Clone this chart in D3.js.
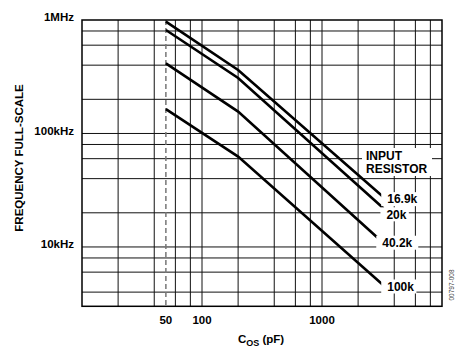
<!DOCTYPE html>
<html>
<head>
<meta charset="utf-8">
<script src="https://cdn.jsdelivr.net/npm/d3@7"></script>
<style>
  body { margin: 0; background: #fff; }
  text { font-family: "Liberation Sans", Arial, sans-serif; }
</style>
</head>
<body>
<div id="chart"></div>
<script>
// curves: Cos (pF) -> full-scale frequency (Hz), one array pair per input resistor
const resistors = ["16.9k", "20k", "40.2k", "100k"];
const cos169 = [50, 200, 3300],  freq169 = [966e3, 363e3, 27.2e3];
const cos20  = [50, 200, 3250],  freq20  = [816e3, 308e3, 21.9e3];
const cos402 = [50, 200, 3000],  freq402 = [415e3, 156e3, 11.7e3];
const cos100 = [50, 200, 3300],  freq100 = [164e3, 62.5e3, 4.53e3];

// grid + ticks
const xGrid = [20, 40, 60, 80, 100, 200, 400, 600, 800, 1000, 2000, 4000, 6000, 8000];
const yGrid = [4e3, 6e3, 8e3, 1e4, 2e4, 4e4, 6e4, 8e4, 1e5, 2e5, 4e5, 6e5, 8e5];
const xTicks = [50, 100, 1000];
const yTicks = [1e4, 1e5, 1e6];
const yTickLabels = ["10kHz", "100kHz", "1MHz"];

const series = [
  {name: resistors[0], c: cos169, f: freq169},
  {name: resistors[1], c: cos20,  f: freq20},
  {name: resistors[2], c: cos402, f: freq402},
  {name: resistors[3], c: cos100, f: freq100}
];

const W = 467, H = 352;
const svg = d3.select("#chart").append("svg")
  .attr("width", W).attr("height", H);

const x = d3.scaleLog().domain([10, 10000]).range([82, 442]);
const y = d3.scaleLog().domain([3e3, 1e6]).range([306.3, 20]);

// grid
svg.append("g").selectAll("line").data(xGrid).enter().append("line")
  .attr("x1", d => x(d)).attr("x2", d => x(d))
  .attr("y1", y(1e6)).attr("y2", y(3e3))
  .attr("stroke", "#111").attr("stroke-width", 1);
svg.append("g").selectAll("line").data(yGrid).enter().append("line")
  .attr("y1", d => y(d)).attr("y2", d => y(d))
  .attr("x1", x(10)).attr("x2", x(10000))
  .attr("stroke", "#111").attr("stroke-width", 1);

// dashed 50pF marker
svg.append("line")
  .attr("x1", x(50)).attr("x2", x(50))
  .attr("y1", y(1e6)).attr("y2", y(3e3))
  .attr("stroke", "#777").attr("stroke-width", 1.5)
  .attr("stroke-dasharray", "5,3");

// frame
svg.append("rect")
  .attr("x", x(10)).attr("y", y(1e6))
  .attr("width", x(10000) - x(10)).attr("height", y(3e3) - y(1e6))
  .attr("fill", "none").attr("stroke", "#000").attr("stroke-width", 1.5);

// curves
const line = d3.line().x(d => x(d[0])).y(d => y(d[1]));
svg.append("g").selectAll("path").data(series).enter().append("path")
  .attr("d", s => line(s.c.map((c, i) => [c, s.f[i]])))
  .attr("fill", "none").attr("stroke", "#000").attr("stroke-width", 2.6);

// curve labels on white boxes
const labelDy = [1.5, 6, 3.5, 0.5];
const lab = svg.append("g").selectAll("g").data(series).enter().append("g")
  .attr("transform", (s, i) => {
    const n = s.c.length - 1;
    return `translate(${x(s.c[n]) + 2},${y(s.f[n]) + labelDy[i]})`;
  });
lab.append("rect")
  .attr("x", -5).attr("y", -7)
  .attr("width", s => s.name.length * 6.8 + 8).attr("height", 14)
  .attr("fill", "#fff");
lab.append("text")
  .attr("x", 1).attr("dy", "0.36em")
  .attr("font-size", 12).attr("font-weight", "bold")
  .text(s => s.name);

// legend title
svg.append("rect").attr("x", 362).attr("y", 148).attr("width", 70).attr("height", 28).attr("fill", "#fff");
svg.append("text").attr("x", 366).attr("y", 160)
  .attr("font-size", 12).attr("font-weight", "bold").text("INPUT");
svg.append("text").attr("x", 366).attr("y", 173)
  .attr("font-size", 12).attr("font-weight", "bold").text("RESISTOR");

// y tick labels
svg.append("g").selectAll("text").data(yTicks).enter().append("text")
  .attr("x", 74).attr("y", d => y(d)).attr("dy", "0.1em")
  .attr("text-anchor", "end")
  .attr("font-size", 11.5).attr("font-weight", "bold")
  .text((d, i) => yTickLabels[i]);

// x tick labels
svg.append("g").selectAll("text").data(xTicks).enter().append("text")
  .attr("x", d => x(d)).attr("y", 324)
  .attr("text-anchor", "middle")
  .attr("font-size", 11.5).attr("font-weight", "bold")
  .text(d => d);

// axis titles
const xt = svg.append("text").attr("x", 261).attr("y", 343)
  .attr("text-anchor", "middle")
  .attr("font-size", 11.5).attr("font-weight", "bold");
xt.append("tspan").text("C");
xt.append("tspan").attr("font-size", 9).attr("dy", 3).text("OS");
xt.append("tspan").attr("dy", -3).text(" (pF)");

svg.append("text")
  .attr("transform", "translate(23,158) rotate(-90)")
  .attr("text-anchor", "middle")
  .attr("font-size", 11.5).attr("font-weight", "bold")
  .text("FREQUENCY FULL-SCALE");

svg.append("text")
  .attr("transform", "translate(454,285) rotate(-90)")
  .attr("text-anchor", "middle")
  .attr("font-size", 6.5).attr("fill", "#444")
  .text("00797-008");
</script>
</body>
</html>
